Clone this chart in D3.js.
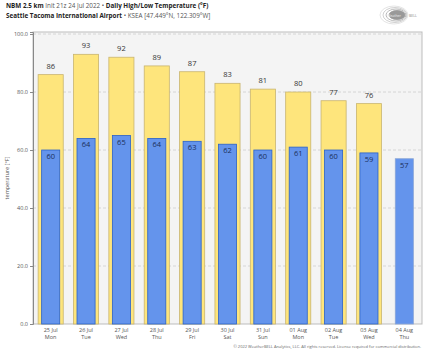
<!DOCTYPE html>
<html>
<head>
<meta charset="utf-8">
<script src="https://cdn.jsdelivr.net/npm/d3@7"></script>
<style>
  body { margin: 0; background: #fff; }
  text { font-family: "Open Sans", "DejaVu Sans", sans-serif; }
</style>
</head>
<body>
<div id="chart"></div>
<script>
const dates = ["25 Jul", "26 Jul", "27 Jul", "28 Jul", "29 Jul", "30 Jul", "31 Jul", "01 Aug", "02 Aug", "03 Aug", "04 Aug"];
const days = ["Mon", "Tue", "Wed", "Thu", "Fri", "Sat", "Sun", "Mon", "Tue", "Wed", "Thu"];
const highs = [86, 93, 92, 89, 87, 83, 81, 80, 77, 76, null];
const lows = [60, 64, 65, 64, 63, 62, 60, 61, 60, 59, 57];
const yTicks = [0, 20, 40, 60, 80, 100];

const W = 429, H = 352;
const margin = { top: 32, right: 7, bottom: 28, left: 33 };
const width = W - margin.left - margin.right;
const height = H - margin.top - margin.bottom;

const svg = d3.select("#chart").append("svg")
  .attr("width", W)
  .attr("height", H);

// Title
const t1 = svg.append("text").attr("x", 6).attr("y", 8).style("font-size", "6.3px").style("fill", "#222");
t1.append("tspan").style("font-weight", "bold").text("NBM 2.5 km ");
t1.append("tspan").style("fill", "#555").text("Init 21z 24 Jul 2022 • ");
t1.append("tspan").style("font-weight", "bold").text("Daily High/Low Temperature (°F)");

const t2 = svg.append("text").attr("x", 6).attr("y", 18).style("font-size", "6.3px").style("fill", "#222");
t2.append("tspan").style("font-weight", "bold").text("Seattle Tacoma International Airport ");
t2.append("tspan").style("fill", "#555").text("• KSEA [47.449°N, 122.309°W]");

// Logo
const logo = svg.append("g").attr("transform", "translate(400,15)");
[[14, 9, "#ddd"], [12, 7.5, "#c4c4c4"], [10, 6, "#aaa"], [8, 4.5, "#999"]].forEach(([rx, ry, c], i) => {
  logo.append("ellipse")
    .attr("cx", -6 + i).attr("cy", 0)
    .attr("rx", rx).attr("ry", ry)
    .attr("fill", i === 3 ? c : "none")
    .attr("stroke", c).attr("stroke-width", 0.8);
});
logo.append("text").attr("x", -6).attr("y", 1.5).attr("text-anchor", "middle")
  .style("font-size", "3.5px").style("fill", "#eee").text("Weather");
logo.append("text").attr("x", 9).attr("y", 1.5).attr("text-anchor", "start")
  .style("font-size", "3.5px").style("fill", "#888").text("BELL");

const g = svg.append("g").attr("transform", `translate(${margin.left},${margin.top})`);

const x = d3.scaleBand().domain(dates).range([0, width]).paddingInner(0.29).paddingOuter(0.145);
const y = d3.scaleLinear().domain([0, 100.7]).range([height, 0]);

// Plot background
g.append("rect")
  .attr("width", width).attr("height", height)
  .attr("fill", "#f4f4f4").attr("stroke", "#bdbdbd").attr("stroke-width", 1);

// Gridlines
g.selectAll(".grid").data(yTicks.filter(d => d > 0)).enter().append("line")
  .attr("x1", 0).attr("x2", width)
  .attr("y1", d => y(d)).attr("y2", d => y(d))
  .attr("stroke", "#cfcfcf").attr("stroke-dasharray", "3 2").attr("stroke-width", 0.8);

// Y axis
const yAxis = g.append("g")
  .call(d3.axisLeft(y).tickValues(yTicks).tickFormat(d3.format(".1f")).tickSize(3).tickPadding(2));
yAxis.select(".domain").attr("stroke", "#888");
yAxis.selectAll(".tick line").attr("stroke", "#888");
yAxis.selectAll("text").style("font-size", "5.5px").style("fill", "#555").style("font-family", "'Open Sans', sans-serif");

svg.append("text")
  .attr("transform", `translate(9,${margin.top + height / 2}) rotate(-90)`)
  .attr("text-anchor", "middle")
  .style("font-size", "5.5px").style("fill", "#555")
  .text("temperature [°F]");

// X axis labels
const xAxis = g.append("g").attr("transform", `translate(0,${height})`);
xAxis.selectAll(".d").data(dates).enter().append("text")
  .attr("x", d => x(d) + x.bandwidth() / 2).attr("y", 7.5)
  .attr("text-anchor", "middle").style("font-size", "5.5px").style("fill", "#555")
  .text(d => d);
xAxis.selectAll(".w").data(days).enter().append("text")
  .attr("x", (d, i) => x(dates[i]) + x.bandwidth() / 2).attr("y", 15)
  .attr("text-anchor", "middle").style("font-size", "5.5px").style("fill", "#555")
  .text(d => d);

// High bars
const hi = dates.map((d, i) => ({ date: d, v: highs[i] })).filter(d => d.v != null);
g.selectAll(".hi").data(hi).enter().append("rect")
  .attr("x", d => x(d.date)).attr("y", d => y(d.v))
  .attr("width", x.bandwidth()).attr("height", d => height - y(d.v))
  .attr("fill", "#fee57c").attr("stroke", "#c9b570").attr("stroke-width", 0.8);

g.selectAll(".hil").data(hi).enter().append("text")
  .attr("x", d => x(d.date) + x.bandwidth() / 2).attr("y", d => y(d.v) - 6)
  .attr("text-anchor", "middle").style("font-size", "7.5px").style("fill", "#333")
  .text(d => d.v);

// Low bars
const lo = dates.map((d, i) => ({ date: d, v: lows[i] }));
const inset = x.bandwidth() * 0.14;
g.selectAll(".lo").data(lo).enter().append("rect")
  .attr("x", d => x(d.date) + inset).attr("y", d => y(d.v))
  .attr("width", x.bandwidth() - 2 * inset).attr("height", d => height - y(d.v))
  .attr("fill", "#6494ec").attr("stroke", (d, i) => highs[i] == null ? "#8aa6d6" : "#2a62c9").attr("stroke-width", 0.8);

g.selectAll(".lol").data(lo).enter().append("text")
  .attr("x", d => x(d.date) + x.bandwidth() / 2).attr("y", d => y(d.v) + 9)
  .attr("text-anchor", "middle").style("font-size", "7.5px").style("fill", "#1b2f5a")
  .text(d => d.v);

// Copyright
svg.append("text")
  .attr("x", W - 8).attr("y", H - 4)
  .attr("text-anchor", "end")
  .style("font-size", "4px").style("fill", "#666")
  .text("© 2022 WeatherBELL Analytics, LLC. All rights reserved. License required for commercial distribution.");
</script>
</body>
</html>
